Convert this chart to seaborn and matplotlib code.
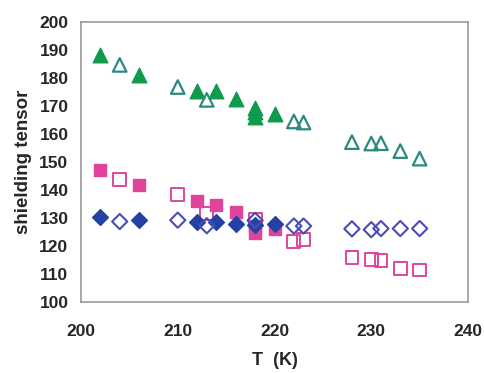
import matplotlib
matplotlib.use("Agg")
import matplotlib.pyplot as plt
import seaborn as sns
import pandas as pd

sns.set_theme(style="white")
plt.rcParams['font.family'] = ['Liberation Sans', 'DejaVu Sans']

# green filled triangles
tri_f_T = [202, 206, 212, 214, 216, 218, 218, 218, 220]
tri_f_v = [188.2, 181.2, 175.5, 175.5, 172.6, 169.4, 168.0, 166.2, 167.3]
# teal open triangles
tri_o_T = [204, 210, 213, 222, 223, 228, 230, 231, 233, 235]
tri_o_v = [184.8, 176.9, 172.3, 164.6, 164.2, 157.2, 156.7, 156.8, 154.0, 151.3]
# pink filled squares
sq_f_T = [202, 206, 212, 214, 216, 218, 218, 220]
sq_f_v = [147.2, 141.9, 136.1, 134.8, 132.2, 127.3, 124.6, 126.1]
# pink open squares
sq_o_T = [204, 210, 213, 218, 222, 223, 228, 230, 231, 233, 235]
sq_o_v = [143.8, 138.6, 131.8, 129.6, 121.8, 122.4, 115.9, 115.2, 114.8, 112.0, 111.5]
# blue filled diamonds
dia_f_T = [202, 206, 212, 214, 216, 218, 220]
dia_f_v = [130.3, 129.5, 128.7, 128.8, 128.0, 127.6, 127.8]
# blue open diamonds
dia_o_T = [204, 210, 213, 218, 222, 223, 228, 230, 231, 233, 235]
dia_o_v = [128.8, 129.3, 127.3, 129.2, 127.2, 127.2, 126.2, 125.9, 126.3, 126.3, 126.3]

xticks = [200, 210, 220, 230, 240]
yticks = [100, 110, 120, 130, 140, 150, 160, 170, 180, 190, 200]

fig = plt.figure(figsize=(4.85, 3.73), dpi=100)
ax = fig.add_axes([0.167, 0.19, 0.798, 0.75])

series = [
    (tri_f_T, tri_f_v, '^', '#0f9a4c', '#0f9a4c', 110, 1.0),
    (tri_o_T, tri_o_v, '^', 'none', '#2a8a80', 95, 1.6),
    (sq_f_T, sq_f_v, 's', '#e0449a', '#e0449a', 70, 1.0),
    (sq_o_T, sq_o_v, 's', 'none', '#e0449a', 85, 1.4),
    (dia_f_T, dia_f_v, 'D', '#2442a6', '#2442a6', 65, 1.0),
    (dia_o_T, dia_o_v, 'D', 'none', '#4b4cb5', 60, 1.5),
]
for T, v, m, fc, ec, s, lw in series:
    df = pd.DataFrame({'T': T, 'v': v})
    sns.scatterplot(data=df, x='T', y='v', marker=m, s=s, ax=ax,
                    facecolor=fc, edgecolor=ec, linewidth=lw, zorder=3)

ax.set_xlim(200, 240)
ax.set_ylim(100, 200)
ax.set_xticks(xticks)
ax.set_yticks(yticks)
ax.set_xticklabels([str(t) for t in xticks], fontsize=12.5, fontweight='bold')
ax.set_yticklabels([str(t) for t in yticks], fontsize=12.5, fontweight='bold')
ax.set_xlabel('T  (K)', fontsize=13, fontweight='bold', labelpad=9)
ax.set_ylabel('shielding tensor', fontsize=13.5, fontweight='bold', labelpad=5)
for sp in ax.spines.values():
    sp.set_color('#999999')
    sp.set_linewidth(1.2)
ax.tick_params(axis='both', direction='out', length=4, color='#999999', width=1, pad=5)
ax.tick_params(axis='x', pad=12)

fig.savefig('out.png', dpi=100, facecolor='white')
